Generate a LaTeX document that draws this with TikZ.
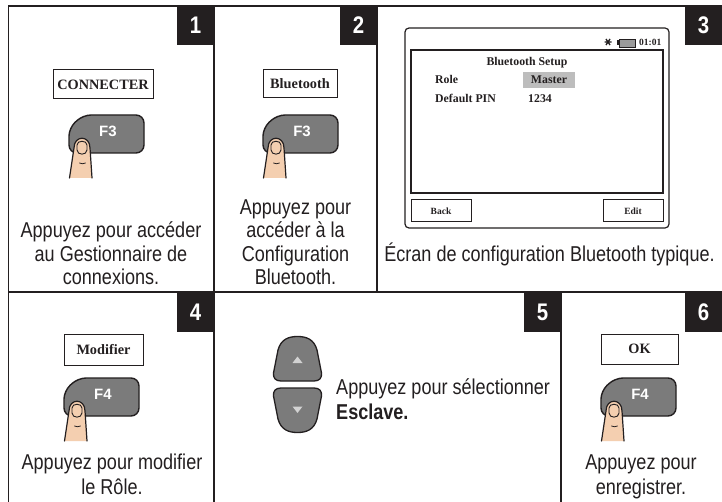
\documentclass[tikz,border=0pt]{standalone}
\usepackage{fontspec}
\setmainfont{Liberation Sans}
\newfontfamily\capfont{Liberation Sans}[FakeStretch=0.84]
\newfontfamily\numfont{Liberation Sans}[FakeStretch=0.85]
\newfontfamily\lcdfont{Liberation Serif}
\newfontfamily\keyfont{Liberation Sans}

\definecolor{ink}{HTML}{231F20}
\definecolor{keygray}{HTML}{7B7B7B}
\definecolor{skin}{HTML}{F4CFB0}
\definecolor{arrowtip}{HTML}{D2D2D2}
\definecolor{hilite}{HTML}{BDBDBD}
\definecolor{battery}{HTML}{9A9A9A}

\tikzset{
  frame/.style={draw=ink, line width=1.9pt},
  numbox/.style={fill=ink, text=white, minimum width=37pt, minimum height=39pt,
    inner sep=0pt, font=\numfont\bfseries\fontsize{24}{24}\selectfont},
  captext/.style={anchor=base, inner sep=0pt, text=ink,
    font=\capfont\fontsize{21.5}{24}\selectfont},
  captextbold/.style={captext, font=\capfont\bfseries\fontsize{21.5}{24}\selectfont},
  softkey/.style={draw=ink, line width=1pt, inner sep=0pt, text=ink,
    font=\lcdfont\bfseries\fontsize{14.3}{14}\selectfont},
  keyshape/.style={fill=keygray, draw=ink, line width=1.4pt, rounded corners=8pt},
  keylabel/.style={text=white, inner sep=0pt,
    font=\keyfont\bfseries\fontsize{15}{15}\selectfont},
  skinfill/.style={fill=skin},
  skinline/.style={draw=ink, line width=1.2pt, line join=round, line cap=round},
  lcd/.style={anchor=base west, inner sep=0pt, text=ink,
    font=\lcdfont\bfseries\fontsize{11.8}{12}\selectfont},
  lcdkey/.style={draw=ink, line width=1pt, inner sep=0pt, text=ink,
    minimum width=60pt, minimum height=22pt,
    font=\lcdfont\bfseries\fontsize{9.5}{10}\selectfont},
  arrowkey/.style={fill=keygray, draw=ink, line width=1.3pt, line join=round},
}

% function key with a pressing finger; #1 name, (#2,#3) top-left corner, #4 label
\newcommand{\presskey}[4]{%
  \begin{scope}[shift={(#2,#3)}]
    \draw[keyshape] (14,0) -- (75,0) -- (75,38) -- (0,38) -- (0,13) -- cycle;
    \node[keylabel] (#1) at (39,16) {#4};
    \fill[skinfill] (0.5,63) -- (5,33) .. controls (5,20) and (21,20) .. (21,33)
      -- (23,63) -- cycle;
    \draw[skinline] (0.5,63) -- (5,33) .. controls (5,20) and (21,20) .. (21,33)
      -- (23,63);
    \draw[skinline, line width=0.9pt] (8,30) .. controls (8,25) and (18,25) .. (18,30)
      -- (18,35) .. controls (18,40.5) and (8,40.5) .. (8,35) -- cycle;
    \draw[skinline, line width=0.8pt] (10.5,48) .. controls (12.5,49) and (14.5,49) .. (16.5,48);
  \end{scope}}

\begin{document}
\begin{tikzpicture}[x=1pt, y=-1pt]
\useasboundingbox (0,0) rectangle (722,502);
\fill[white] (0,0) rectangle (722,502);

% panel grid
\draw[frame] (8.5,6) rectangle (725,506);
\draw[frame] (8.5,292) -- (725,292);
\draw[frame] (214,6) -- (214,292);
\draw[frame] (377,6) -- (377,292);
\draw[frame] (214,292) -- (214,506);
\draw[frame] (561,292) -- (561,506);

% step numbers
\node[numbox] (n1) at (195.5,25.5) {1};
\node[numbox] (n2) at (358.5,25.5) {2};
\node[numbox] (n3) at (703.5,25.5) {3};
\node[numbox, minimum height=40pt] (n4) at (195.5,312) {4};
\node[numbox, minimum height=40pt] (n5) at (542.5,312) {5};
\node[numbox, minimum height=40pt] (n6) at (703.5,312) {6};

% step 1
\node[softkey, minimum width=100pt, minimum height=29pt] (k1) at (103,84.5) {CONNECTER};
\presskey{f1}{69}{115}{F3}
\node[captext] (c1a) at (111,238) {Appuyez pour accéder};
\node[captext] (c1b) at (111,261.5) {au Gestionnaire de};
\node[captext] (c1c) at (111,285) {connexions.};

% step 2
\node[softkey, minimum width=74pt, minimum height=28pt] (k2) at (300,83.5) {Bluetooth};
\presskey{f2}{263}{115}{F3}
\node[captext] (c2a) at (295.5,214.5) {Appuyez pour};
\node[captext] (c2b) at (295.5,238) {accéder à la};
\node[captext] (c2c) at (295.5,261.5) {Configuration};
\node[captext] (c2d) at (295.5,285) {Bluetooth.};

% step 3: instrument display
\draw[ink, line width=1.2pt, rounded corners=4pt] (405,28) rectangle (669,228);
\draw[ink, line width=1.4pt] (411,50) rectangle (663,193);
\draw[ink, line width=1.3pt] (604.5,42) -- (611.5,42) (606,39) -- (610,45) (610,39) -- (606,45);
\fill[ink] (617,40.5) rectangle (618.5,45.5);
\draw[ink, line width=0.9pt, fill=battery] (619,39) rectangle (635,47);
\node[lcd, font=\lcdfont\bfseries\fontsize{9.5}{10}\selectfont] (clock) at (639,46) {01:01};
\node[lcd, anchor=base] (title) at (527,65.5) {Bluetooth Setup};
\fill[hilite] (523,72) rectangle (575,88);
\node[lcd] (role) at (435,84) {Role};
\node[lcd, anchor=base] (master) at (549,84) {Master};
\node[lcd] (pin) at (435,103) {Default PIN};
\node[lcd] (pinval) at (528,103) {1234};
\node[lcdkey] (back) at (441,211) {Back};
\node[lcdkey] (edit) at (633,211) {Edit};
\node[captext] (c3) at (549.5,261.5) {Écran de configuration Bluetooth typique.};

% step 4
\node[softkey, minimum width=79pt, minimum height=31pt] (k4) at (103.5,349.5) {Modifier};
\presskey{f4}{64}{378}{F4}
\node[captext] (c4a) at (112,469) {Appuyez pour modifier};
\node[captext] (c4b) at (112,494) {le Rôle.};

% step 5: arrow keys
\draw[arrowkey] (281,381) .. controls (275.5,381) and (273,378) .. (273.5,373)
  -- (278,350) .. controls (281,339) and (289,336.5) .. (297.5,336.5)
  .. controls (306,336.5) and (314,339) .. (317,350)
  -- (321.5,373) .. controls (322,378) and (319.5,381) .. (314,381) -- cycle;
\draw[arrowkey] (281,388) .. controls (275.5,388) and (273,391) .. (273.5,396)
  -- (278,419) .. controls (281,430) and (289,432.5) .. (297.5,432.5)
  .. controls (306,432.5) and (314,430) .. (317,419)
  -- (321.5,396) .. controls (322,391) and (319.5,388) .. (314,388) -- cycle;
\fill[arrowtip] (292.5,363) -- (302.5,363) -- (297.5,356.5) -- cycle;
\fill[arrowtip] (292.5,406.5) -- (302.5,406.5) -- (297.5,413) -- cycle;
\node[captext, anchor=base west] (c5a) at (336,394) {Appuyez pour sélectionner};
\node[captextbold, anchor=base west] (c5b) at (336,419) {Esclave.};

% step 6
\node[softkey, minimum width=77pt, minimum height=30pt] (k6) at (639.5,349) {OK};
\presskey{f6}{601}{378}{F4}
\node[captext] (c6a) at (641,469) {Appuyez pour};
\node[captext] (c6b) at (641,494) {enregistrer.};
\end{tikzpicture}
\end{document}
